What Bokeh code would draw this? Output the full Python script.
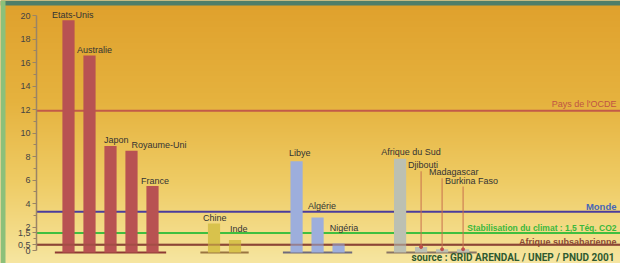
import numpy as np
from bokeh.plotting import figure
from bokeh.models import ColumnDataSource, FixedTicker, Range1d
from bokeh.core.properties import value
from bokeh.embed import file_html
from bokeh.resources import INLINE

# ---------------- data ----------------
countries = ["Etats-Unis", "Australie", "Japon", "Royaume-Uni", "France",
             "Chine", "Inde",
             "Libye", "Algérie", "Nigéria",
             "Afrique du Sud", "Djibouti", "Madagascar", "Burkina Faso"]
emissions = [19.6, 16.6, 8.9, 8.5, 5.5,
             2.3, 0.9,
             7.6, 2.8, 0.6,
             7.8, 0.3, 0.1, 0.1]
group_of = [0, 0, 0, 0, 0, 1, 1, 2, 2, 2, 3, 3, 3, 3]

ref_names = ["Pays de l'OCDE", "Monde",
             "Stabilisation du climat : 1,5 Téq. CO2", "Afrique subsaharienne"]
ref_values = [11.9, 3.3, 1.5, 0.5]

y_ticks = [0, 0.5, 1.5, 2, 4, 6, 8, 10, 12, 14, 16, 18, 20]
y_tick_labels = ["0", "0,5", "1,5", "2", "4", "6", "8", "10", "12", "14", "16", "18", "20"]
y_minor = [1, 3, 5, 7, 9, 11, 13, 15, 17, 19]

source_note = "source : GRID ARENDAL / UNEP / PNUD 2001"

# ---------------- layout / style ----------------
W, H = 620, 263
PX_SLOT = 21.0        # px per bar slot
FIRST_PX = 68.0       # px of first bar centre
GROUP_GAP = 1.93      # extra slots between groups
AXIS_PX = 36
Y0_PX, Y20_PX = 250.0, 15.0

pxu_y = (Y0_PX - Y20_PX) / 20.0
x_start = -FIRST_PX / PX_SLOT
x_end = x_start + W / PX_SLOT
y_start = -(H - Y0_PX) / pxu_y
y_end = 20 + Y20_PX / pxu_y
axis_x = (AXIS_PX - FIRST_PX) / PX_SLOT

group_colors = ["#b85252", "#d8c24c", "#9daedc", "#bcc0b2"]
base_colors = ["#8e3a34", "#9a7440", "#6f6a7c", "#8a7464"]
ref_colors = ["#c25a48", "#4b3c9c", "#3fbf3f", "#8c4636"]

# label offsets (px) relative to bar centre / bar top
lab_dx = [-16.5, -12.5, -6.5, 0, -11.5, -11, -5, -7.5, -9.5, -8.8, -18.8, -13, -13, -18]
lab_dy = [-5.7, -5.6, -6, -6, -5.3, -5, -11.3, -8, -11.7, -15.3, -6.7, -81.7, -77, -68.8]
leader = [False] * 11 + [True, True, True]

# bar x positions derived from group structure
xs = []
pos = 0.0
for i, g in enumerate(group_of):
    if i > 0 and g != group_of[i - 1]:
        pos += GROUP_GAP
    xs.append(pos)
    pos += 1.0

p = figure(width=W, height=H, output_backend="svg", toolbar_location=None,
           x_range=Range1d(x_start, x_end), y_range=Range1d(y_start, y_end),
           x_axis_location=None, min_border=0, outline_line_color=None,
           background_fill_color="#e9c25a", border_fill_color="#f0d890")
p.xgrid.visible = False
p.ygrid.visible = False

# background gradient (pixel stops from top)
stops_y = [0, 100, 180, 240, 271]
stops_c = [(223, 160, 44), (229, 178, 62), (238, 203, 100), (244, 222, 142), (247, 233, 170)]
img = np.empty((H, 1), dtype=np.uint32)
view = img.view(dtype=np.uint8).reshape((H, 1, 4))
for r in range(H):
    py = (H - 1 - r)
    for c in range(3):
        view[r, 0, c] = int(round(np.interp(py, stops_y, [s[c] for s in stops_c])))
    view[r, 0, 3] = 255
p.image_rgba(image=[img], x=x_start, y=y_start, dw=x_end - x_start, dh=y_end - y_start)

# frame bands (top teal, left green)
p.quad(left=x_start, right=x_end, top=y_end, bottom=y_end - 5 / pxu_y,
       fill_color="#4f7e69", line_color=None)
p.quad(left=x_start, right=x_start + 5 / PX_SLOT, top=y_end, bottom=y_start,
       fill_color="#8cc07a", line_color=None)

# reference lines (behind bars)
for v, col in zip(ref_values, ref_colors):
    p.segment(x0=axis_x, x1=x_end, y0=v, y1=v, line_color=col, line_width=2)

# group baselines
base_y = -2.0 / pxu_y
for g in sorted(set(group_of)):
    gx = [x for x, gg in zip(xs, group_of) if gg == g]
    p.segment(x0=min(gx) - 0.65, x1=max(gx) + 0.65, y0=base_y, y1=base_y,
              line_color=base_colors[g], line_width=2)

src = ColumnDataSource(dict(
    x=xs, v=emissions, name=countries,
    color=[group_colors[g] for g in group_of],
    dx=lab_dx, dy=lab_dy))
p.vbar(x="x", top="v", bottom=base_y, width=0.58, fill_color="color",
       line_color=None, source=src)

# brown line slightly over bars
p.segment(x0=axis_x, x1=x_end, y0=ref_values[3], y1=ref_values[3],
          line_color=ref_colors[3], line_width=2, line_alpha=0.45)

# leader lines for tiny values
lx, ly0, ly1 = [], [], []
for x, v, dy, l in zip(xs, emissions, lab_dy, leader):
    if l:
        lx.append(x)
        ly0.append(v)
        ly1.append(v + (-dy - 6) / pxu_y)
p.segment(x0=lx, x1=lx, y0=ly0, y1=ly1, line_color="#c9704e", line_width=1)
p.scatter(x=lx, y=ly0, size=3, color="#c0504a", marker="circle")

# bar labels
p.text(x="x", y="v", text="name", x_offset="dx", y_offset="dy", source=src,
       text_font=value("Liberation Sans"), text_font_size="9px",
       text_color="#333333", text_align="left", text_baseline="middle")

# reference-line labels
p.text(x=[x_end], y=[ref_values[0]], text=[ref_names[0]], x_offset=-4, y_offset=-7,
       text_font=value("Liberation Sans"), text_font_size="9px",
       text_color="#c05444", text_align="right", text_baseline="middle")
p.text(x=[x_end], y=[ref_values[1]], text=[ref_names[1]], x_offset=-4, y_offset=-5,
       text_font=value("Liberation Sans"), text_font_size="9.5px", text_font_style="bold",
       text_color="#4766b6", text_align="right", text_baseline="middle")
p.text(x=[x_end], y=[ref_values[2]], text=[ref_names[2]], x_offset=-4, y_offset=-5,
       text_font=value("Liberation Sans"), text_font_size="8.5px", text_font_style="bold",
       text_color="#3cb83c", text_align="right", text_baseline="middle")
p.text(x=[x_end], y=[ref_values[3]], text=[ref_names[3]], x_offset=-4, y_offset=-3,
       text_font=value("Liberation Sans"), text_font_size="9px", text_font_style="bold",
       text_color="#8b4a35", text_align="right", text_baseline="middle")

# source note
p.text(x=[x_end], y=[y_start], text=[source_note], x_offset=-6, y_offset=-1,
       text_font=value("Roboto"), text_font_size="10px",
       text_font_style="bold", text_color="#2f5a30",
       text_align="right", text_baseline="bottom")

# y axis drawn inside the frame
ax = p.yaxis[0]
ax.fixed_location = axis_x
ax.ticker = FixedTicker(ticks=y_ticks, minor_ticks=y_minor)
ax.major_label_overrides = {t: l for t, l in zip(y_ticks, y_tick_labels)}
ax.bounds = (0, 20)
ax.axis_line_color = "#9a8466"
ax.axis_line_width = 1.5
ax.major_tick_line_color = "#9a8466"
ax.minor_tick_line_color = "#9a8466"
ax.major_tick_in = 0
ax.major_tick_out = 4
ax.minor_tick_in = 0
ax.minor_tick_out = 3
ax.major_label_standoff = 2
ax.major_label_text_font = "Liberation Sans"
ax.major_label_text_font_size = "9px"
ax.major_label_text_color = "#444444"

open("out.html", "w").write(file_html(p, INLINE))
